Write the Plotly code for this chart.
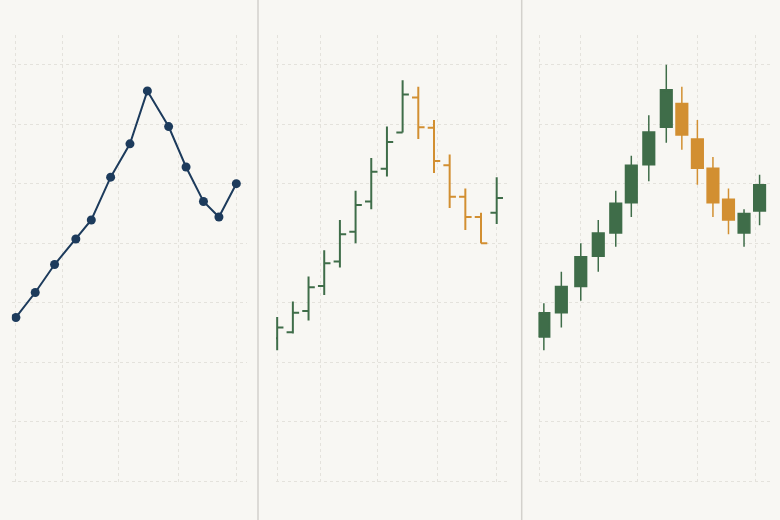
from datetime import datetime, timedelta
import plotly.graph_objects as go

# line panel (closing price)
line_dates = ['2024-01-08', '2024-01-18', '2024-01-28', '2024-02-08', '2024-02-16',
              '2024-02-26', '2024-03-07', '2024-03-16', '2024-03-27', '2024-04-05',
              '2024-04-14', '2024-04-22', '2024-05-01']
line_close = [107.5, 111.7, 116.4, 120.7, 123.9, 131.1, 136.7, 145.6, 139.6, 132.8,
              127.0, 124.4, 130.0]

# ohlc panel
ohlc_dates = ['2024-01-10', '2024-01-18', '2024-01-26', '2024-02-03', '2024-02-11',
              '2024-02-19', '2024-02-27', '2024-03-06', '2024-03-14', '2024-03-22',
              '2024-03-30', '2024-04-07', '2024-04-15', '2024-04-23', '2024-05-01']
ohlc_open = [104.0, 105.0, 108.6, 112.8, 116.9, 121.9, 127.0, 132.5, 138.6, 144.5,
             139.4, 133.1, 127.8, 124.4, 125.1]
ohlc_high = [107.6, 110.2, 114.4, 118.8, 123.9, 128.8, 134.3, 139.6, 147.4, 146.3,
             140.7, 134.9, 129.2, 125.1, 131.1]
ohlc_low = [102.0, 104.8, 107.0, 111.3, 115.9, 120.0, 125.7, 131.2, 138.6, 137.5,
            131.8, 125.9, 122.2, 120.0, 123.2]
ohlc_close = [105.8, 108.3, 112.6, 116.6, 121.5, 126.4, 132.0, 137.0, 145.0, 139.5,
              133.8, 127.8, 124.4, 120.0, 127.6]

# candlestick panel
candle_dates = ['2024-01-13', '2024-01-22', '2024-02-01', '2024-02-10', '2024-02-19',
                '2024-02-27', '2024-03-07', '2024-03-16', '2024-03-24', '2024-04-01',
                '2024-04-09', '2024-04-17', '2024-04-25', '2024-05-03']
candle_open = [104.2, 108.3, 112.7, 117.8, 121.7, 126.8, 133.2, 139.5, 143.5, 137.5,
               132.6, 127.4, 121.7, 125.4]
candle_high = [109.9, 115.2, 120.0, 123.9, 128.8, 134.7, 141.5, 150.0, 146.3, 140.7,
               134.5, 129.2, 125.7, 131.5]
candle_low = [102.0, 105.8, 110.3, 115.2, 119.4, 124.4, 130.4, 136.9, 135.7, 129.8,
              124.4, 121.5, 119.4, 123.0]
candle_close = [108.3, 112.7, 117.7, 121.7, 126.7, 133.1, 138.7, 145.8, 138.2, 132.6,
                126.8, 123.9, 125.0, 129.8]

month_ticks = ['2024-02-01', '2024-03-01', '2024-04-01', '2024-05-01']

BG = '#f8f7f3'
GRID = '#e4e2dc'
NAVY = '#1d3b5c'
GREEN = '#3f6d49'
ORANGE = '#d28f31'

base = datetime(2024, 2, 1)


def day(d):
    return (base + timedelta(days=d)).strftime('%Y-%m-%d %H:%M:%S')


W, H = 780, 520
y_dom = [1 - 482.5 / H, 1 - 35 / H]

fig = go.Figure()

fig.add_trace(go.Scatter(
    x=line_dates, y=line_close, mode='lines+markers',
    line=dict(color=NAVY, width=2),
    marker=dict(color=NAVY, size=9),
    xaxis='x', yaxis='y', showlegend=False,
))

fig.add_trace(go.Ohlc(
    x=ohlc_dates, open=ohlc_open, high=ohlc_high, low=ohlc_low, close=ohlc_close,
    increasing=dict(line=dict(color=GREEN, width=2)),
    decreasing=dict(line=dict(color=ORANGE, width=2)),
    tickwidth=0.4,
    xaxis='x2', yaxis='y2', showlegend=False,
))

fig.add_trace(go.Candlestick(
    x=candle_dates, open=candle_open, high=candle_high, low=candle_low, close=candle_close,
    increasing=dict(line=dict(color=GREEN, width=1.5), fillcolor=GREEN),
    decreasing=dict(line=dict(color=ORANGE, width=1.5), fillcolor=ORANGE),
    whiskerwidth=0,
    xaxis='x3', yaxis='y3', showlegend=False,
))

# plotly drops grid lines closer than 1px to a plot edge, so the first
# tick of each panel sits a little inside the range
panels = [
    ([11.7, 247.3], [-26.17, 95.68], ['2024-01-08'] + month_ticks),
    ([276.0, 509.3], [-22.6, 96.43], [day(-21.9)] + month_ticks),
    ([538.6, 770.0], [-21.7, 97.36], [day(-21.0)] + month_ticks),
]

axis_common = dict(showticklabels=False, ticks='', showline=False, zeroline=False,
                   showgrid=True, gridcolor=GRID, gridwidth=1, griddash='dot')

for i, (dom, rng, tv) in enumerate(panels):
    sfx = '' if i == 0 else str(i + 1)
    fig.layout['xaxis' + sfx] = dict(
        axis_common, type='date', domain=[dom[0] / W, dom[1] / W],
        range=[day(rng[0]), day(rng[1])], tickvals=tv,
        anchor='y' + sfx, rangeslider=dict(visible=False),
    )
    fig.layout['yaxis' + sfx] = dict(
        axis_common, domain=y_dom, range=[79.75, 155], tick0=80, dtick=10,
        anchor='x' + sfx,
    )

shapes = []
for sx in [258.0, 521.7]:
    shapes.append(dict(type='line', xref='paper', yref='paper',
                       x0=sx / W, x1=sx / W, y0=0, y1=1,
                       line=dict(color='#d3d1cc', width=1.5)))

fig.update_layout(
    width=W, height=H,
    margin=dict(l=0, r=0, t=0, b=0),
    paper_bgcolor=BG, plot_bgcolor=BG,
    shapes=shapes,
    boxgap=0.25, boxgroupgap=0,
    showlegend=False,
)

# the page is photographed edge to edge, so drop the default body margin
fig.write_html('out.html', config={'displayModeBar': False},
               post_script="document.body.style.margin='0';"
                           "document.body.style.background='" + BG + "';")
